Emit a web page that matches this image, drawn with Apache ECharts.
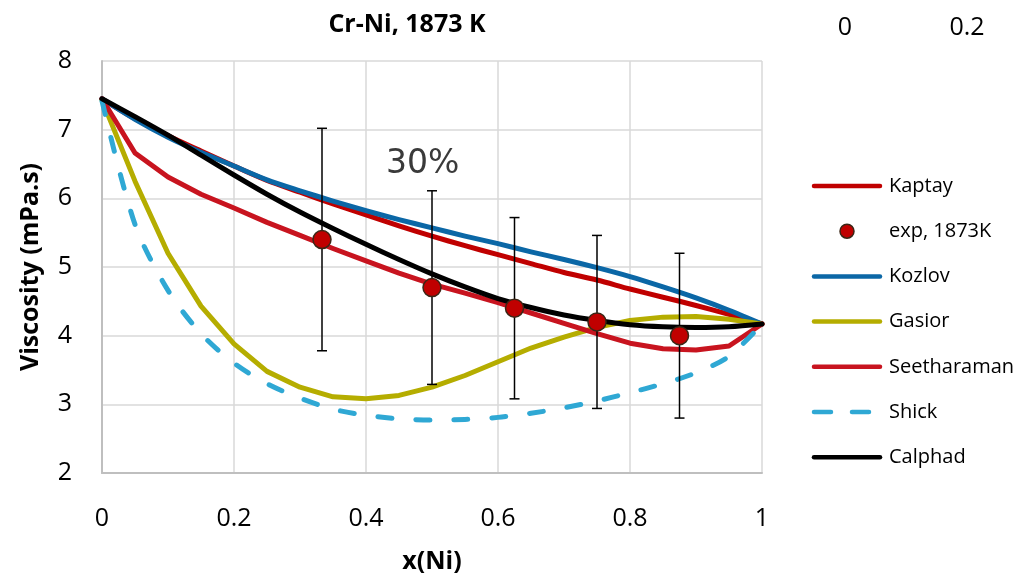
<!DOCTYPE html>
<html>
<head>
<meta charset="utf-8">
<title>Cr-Ni, 1873 K</title>
<script src="https://cdn.jsdelivr.net/npm/echarts@6/dist/echarts.min.js"></script>
<style>
  html, body { margin: 0; padding: 0; background: #ffffff; }
  #chart { width: 1020px; height: 579px; }
</style>
</head>
<body>
<div id="chart"></div>
<script>
// Composition grid, mole fraction of Ni
const xs = [0, 0.05, 0.1, 0.15, 0.2, 0.25, 0.3, 0.35, 0.4, 0.45, 0.5,
            0.55, 0.6, 0.65, 0.7, 0.75, 0.8, 0.85, 0.9, 0.95, 1];

// Model viscosities, mPa.s
const kaptay      = [7.45, 7.16, 6.91, 6.69, 6.47, 6.26, 6.09, 5.92, 5.76, 5.60, 5.45,
                     5.31, 5.18, 5.05, 4.92, 4.81, 4.68, 4.56, 4.44, 4.31, 4.17];
const kozlov      = [7.45, 7.15, 6.89, 6.67, 6.47, 6.27, 6.11, 5.96, 5.82, 5.69, 5.57,
                     5.45, 5.34, 5.22, 5.11, 4.99, 4.86, 4.71, 4.55, 4.37, 4.17];
const gasior      = [7.43, 6.25, 5.20, 4.43, 3.88, 3.48, 3.25, 3.11, 3.08, 3.13, 3.25,
                     3.42, 3.62, 3.82, 3.98, 4.12, 4.22, 4.27, 4.28, 4.24, 4.17];
const seetharaman = [7.45, 6.66, 6.31, 6.06, 5.86, 5.65, 5.46, 5.27, 5.09, 4.91, 4.75,
                     4.62, 4.48, 4.33, 4.18, 4.03, 3.89, 3.81, 3.79, 3.85, 4.17];
const shick       = [7.42, 5.62, 4.66, 4.03, 3.60, 3.30, 3.09, 2.93, 2.84, 2.79, 2.77,
                     2.78, 2.81, 2.87, 2.95, 3.05, 3.17, 3.30, 3.46, 3.70, 4.17];
const calphad     = [7.45, 7.19, 6.92, 6.63, 6.34, 6.06, 5.80, 5.56, 5.33, 5.11, 4.90,
                     4.71, 4.54, 4.41, 4.30, 4.22, 4.16, 4.13, 4.12, 4.13, 4.17];

// Measured points at 1873 K with relative uncertainty
const expX = [1 / 3, 0.5, 0.625, 0.75, 0.875];
const expY = [5.4, 4.7, 4.4, 4.2, 4.0];
const expErr = 0.30;
const errLabel = '30%';

const xTicks = [0, 0.2, 0.4, 0.6, 0.8, 1];
const yTicks = [2, 3, 4, 5, 6, 7, 8];
const cornerLabels = ['0', '0.2'];

const FONT = '"Open Sans", "Noto Sans", sans-serif';

const COLORS = {
  kaptay: '#c00000',
  exp: '#c00000',
  kozlov: '#0b67a6',
  gasior: '#b5ad00',
  seetharaman: '#c8141f',
  shick: '#2fa8d4',
  calphad: '#000000'
};
const LINE_W = 5;
const SHICK_DASH = [14, 24];

const pairs = ys => xs.map((x, i) => [x, ys[i]]);

function lineSeries(name, ys, color, extra) {
  return Object.assign({
    name: name,
    type: 'line',
    data: pairs(ys),
    symbol: 'none',
    showSymbol: false,
    smooth: false,
    lineStyle: { color: color, width: LINE_W, cap: 'round', join: 'round' },
    itemStyle: { color: color },
    emphasis: { disabled: true },
    animation: false,
    z: 2
  }, extra || {});
}

const errData = expX.map((x, i) => [x, expY[i] * (1 - expErr), expY[i] * (1 + expErr)]);

// Legend drawn as plain graphics: line swatch (or dot) + label
const legendItems = [
  { name: 'Kaptay', color: COLORS.kaptay, kind: 'line' },
  { name: 'exp, 1873K', color: COLORS.exp, kind: 'dot' },
  { name: 'Kozlov', color: COLORS.kozlov, kind: 'line' },
  { name: 'Gasior', color: COLORS.gasior, kind: 'line' },
  { name: 'Seetharaman', color: COLORS.seetharaman, kind: 'line' },
  { name: 'Shick', color: COLORS.shick, kind: 'dash' },
  { name: 'Calphad', color: COLORS.calphad, kind: 'line' }
];
const LEG = { x0: 814, x1: 880, textX: 889, y0: 186, step: 45.2 };

const legendGraphics = [];
legendItems.forEach((it, i) => {
  const y = LEG.y0 + i * LEG.step;
  if (it.kind === 'dot') {
    legendGraphics.push({
      type: 'circle', z: 20,
      shape: { cx: (LEG.x0 + LEG.x1) / 2, cy: y, r: 7 },
      style: { fill: it.color, stroke: '#3b2616', lineWidth: 1.5 }
    });
  } else {
    legendGraphics.push({
      type: 'line', z: 20,
      shape: { x1: LEG.x0, y1: y, x2: LEG.x1, y2: y },
      style: {
        stroke: it.color, lineWidth: 4.5, lineCap: 'round',
        lineDash: it.kind === 'dash' ? [17, 21] : null
      }
    });
  }
  legendGraphics.push({
    type: 'text', z: 20, x: LEG.textX, y: y,
    style: { text: it.name, font: '20px ' + FONT, fill: '#000', verticalAlign: 'middle' }
  });
});

const chart = echarts.init(document.getElementById('chart'), null, { renderer: 'canvas' });

chart.setOption({
  animation: false,
  backgroundColor: '#ffffff',
  title: {
    text: 'Cr-Ni, 1873 K',
    left: 402,
    top: 7,
    textAlign: 'center',
    textStyle: { fontFamily: FONT, fontSize: 25, fontWeight: 'bold', color: '#000' }
  },
  grid: { left: 102, right: 258, top: 61, bottom: 106, containLabel: false },
  xAxis: {
    type: 'value',
    min: xTicks[0],
    max: xTicks[xTicks.length - 1],
    interval: 0.2,
    name: 'x(Ni)',
    nameLocation: 'middle',
    nameGap: 76,
    nameTextStyle: { fontFamily: FONT, fontSize: 25, fontWeight: 'bold', color: '#000' },
    axisLine: { show: true, lineStyle: { color: '#bfbfbf', width: 2 } },
    axisTick: { show: false },
    axisLabel: { fontFamily: FONT, fontSize: 25, color: '#000', margin: 33 },
    splitLine: { show: true, lineStyle: { color: '#d9d9d9', width: 1.5 } }
  },
  yAxis: {
    type: 'value',
    min: yTicks[0],
    max: yTicks[yTicks.length - 1],
    interval: 1,
    name: 'Viscosity (mPa.s)',
    nameLocation: 'middle',
    nameGap: 59,
    nameRotate: 90,
    nameTextStyle: { fontFamily: FONT, fontSize: 25, fontWeight: 'bold', color: '#000' },
    axisLine: { show: true, lineStyle: { color: '#bfbfbf', width: 2 } },
    axisTick: { show: false },
    axisLabel: { fontFamily: FONT, fontSize: 25, color: '#000', margin: 30 },
    splitLine: { show: true, lineStyle: { color: '#d9d9d9', width: 1.5 } }
  },
  graphic: [
    {
      type: 'text', left: 386, top: 148, z: 10,
      style: { text: errLabel, font: '33px "DejaVu Sans", sans-serif', fill: '#3a3a3a' }
    },
    {
      type: 'text', x: 845, y: 28, z: 10,
      style: { text: cornerLabels[0], font: '25px ' + FONT, fill: '#000', align: 'center', verticalAlign: 'middle' }
    },
    {
      type: 'text', x: 967, y: 28, z: 10,
      style: { text: cornerLabels[1], font: '25px ' + FONT, fill: '#000', align: 'center', verticalAlign: 'middle' }
    }
  ].concat(legendGraphics),
  series: [
    lineSeries('Kaptay', kaptay, COLORS.kaptay, { smooth: 0.3 }),
    lineSeries('Kozlov', kozlov, COLORS.kozlov, { smooth: 0.3 }),
    lineSeries('Gasior', gasior, COLORS.gasior),
    lineSeries('Seetharaman', seetharaman, COLORS.seetharaman),
    lineSeries('Shick', shick, COLORS.shick, {
      smooth: 0.3,
      lineStyle: { color: COLORS.shick, width: LINE_W, type: SHICK_DASH, cap: 'round', join: 'round' }
    }),
    lineSeries('Calphad', calphad, COLORS.calphad, { smooth: 0.3, z: 3 }),
    {
      name: 'err',
      type: 'custom',
      data: errData,
      z: 4,
      silent: true,
      renderItem: function (params, api) {
        const x = api.value(0);
        const lo = api.coord([x, api.value(1)]);
        const hi = api.coord([x, api.value(2)]);
        const hw = 5;
        const st = { stroke: '#000', lineWidth: 1.5 };
        return {
          type: 'group',
          children: [
            { type: 'line', shape: { x1: lo[0], y1: lo[1], x2: hi[0], y2: hi[1] }, style: st },
            { type: 'line', shape: { x1: lo[0] - hw, y1: lo[1], x2: lo[0] + hw, y2: lo[1] }, style: st },
            { type: 'line', shape: { x1: hi[0] - hw, y1: hi[1], x2: hi[0] + hw, y2: hi[1] }, style: st }
          ]
        };
      }
    },
    {
      name: 'exp, 1873K',
      type: 'scatter',
      data: expX.map((x, i) => [x, expY[i]]),
      symbol: 'circle',
      symbolSize: 18,
      itemStyle: { color: COLORS.exp, borderColor: '#3b2616', borderWidth: 1.5, opacity: 1 },
      emphasis: { disabled: true },
      z: 10
    }
  ]
});
</script>
</body>
</html>
